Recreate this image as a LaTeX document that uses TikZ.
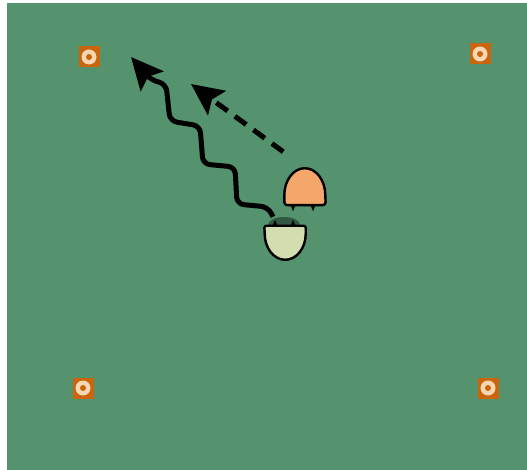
\documentclass[tikz,border=0pt]{standalone}
\usepackage{tikz}
\usetikzlibrary{arrows.meta,positioning}
\definecolor{pitch}{HTML}{55936F}
\definecolor{conebrown}{HTML}{C9650C}
\definecolor{conering}{HTML}{F6D7B4}
\definecolor{attorange}{HTML}{F5A66A}
\definecolor{defgreen}{HTML}{D3DEB0}
\tikzset{
  >={Stealth[length=32pt,width=30pt,inset=6pt]},
  cone/.style={rectangle,fill=conebrown,minimum size=21pt,inner sep=0pt,
    path picture={\fill[conering] (path picture bounding box.center) circle (7.5pt);
      \fill[conebrown] (path picture bounding box.center) circle (3pt);}},
  player/.style={rectangle,inner sep=0pt,minimum width=41pt},
  playerline/.style={draw=black,line width=2.4pt,line join=round},
  runline/.style={->,line width=5pt,rounded corners=7pt},
  passline/.style={->,line width=5pt,dash pattern=on 14pt off 9pt}
}
\begin{document}
\begin{tikzpicture}[x=1pt,y=-1pt]
  \useasboundingbox (0,0) rectangle (527,470);
  \fill[pitch] (7,3) rectangle (527,470);
  % cones
  \node[cone] (cone1) at (89,57) {};
  \node[cone] (cone2) at (480,54) {};
  \node[cone] (cone3) at (83,388) {};
  \node[cone] (cone4) at (488,388) {};
  % players
  \node[player,minimum height=37pt] (att) at (305,186.5) {};
  \node[player,minimum height=34pt] (def) at (285,243) {};
  \fill[black,opacity=.4] (284,225) ellipse (16pt and 8pt);
  \draw[playerline,fill=defgreen,rounded corners=2pt] (def.north west) -- (def.north east)
    {[sharp corners] -- ++(0,8) arc[start angle=0,end angle=180,x radius=20.5,y radius=26]} -- cycle;
  \draw[playerline,fill=attorange,rounded corners=3pt] (att.south west)
    {[sharp corners] -- ++(0,-10) arc[start angle=180,end angle=360,x radius=20.5,y radius=27]}
    -- (att.south east) -- cycle;
  \foreach \x in {-12,8} \fill (att.south) ++(\x-2.5,0) -- ++(5,0) -- ++(-2.5,6) -- cycle;
  \foreach \x in {-10,8} \fill (def.north) ++(\x-2.5,0) -- ++(5,0) -- ++(-2.5,-6) -- cycle;
  % run and pass
  \coordinate (runend) at (131,57);
  \coordinate (passend) at (191,84);
  \draw[runline] (def.north) ++(-12,-9) -- (268,207) -- (237,204) -- (235,167)
    -- (203,164) -- (200,126) -- (170,121) -- (166,84) -- (151,80) -- (runend);
  \draw[passline,shorten <=27pt] (att.north) -- (passend);
\end{tikzpicture}
\end{document}
